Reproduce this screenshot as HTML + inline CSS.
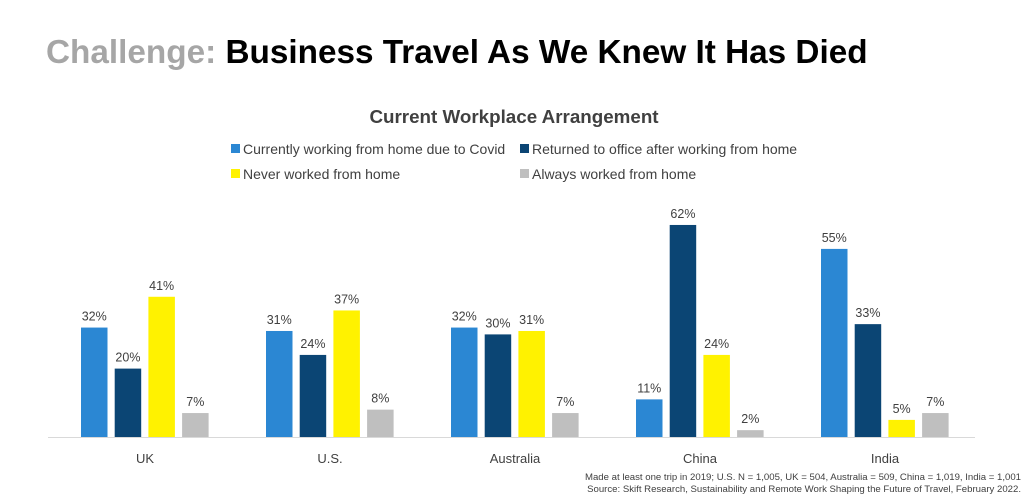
<!DOCTYPE html>
<html><head><meta charset="utf-8"><style>
html,body{margin:0;padding:0;background:#fff;}
svg{display:block;font-family:"Liberation Sans",sans-serif;}
</style></head><body>
<svg width="1028" height="495" viewBox="0 0 1028 495" xmlns="http://www.w3.org/2000/svg">
<text x="46" y="63" font-size="33.3" font-weight="bold" fill="#A6A6A6">Challenge: <tspan fill="#000">Business Travel As We Knew It Has Died</tspan></text>
<text x="514" y="123" font-size="18.8" font-weight="bold" fill="#404040" text-anchor="middle">Current Workplace Arrangement</text>
<g font-size="14" fill="#404040">
<rect x="231" y="144" width="9" height="9" fill="#2B87D3"/><text x="243" y="154">Currently working from home due to Covid</text>
<rect x="520" y="144" width="9" height="9" fill="#0B4574"/><text x="532" y="154">Returned to office after working from home</text>
<rect x="231" y="169" width="9" height="9" fill="#FFF200"/><text x="243" y="179">Never worked from home</text>
<rect x="520" y="169" width="9" height="9" fill="#BFBFBF"/><text x="532" y="179">Always worked from home</text>
</g>
<line x1="48" y1="437.5" x2="975" y2="437.5" stroke="#D9D9D9" stroke-width="1"/>
<g id="bars" font-size="12.5" fill="#404040" text-anchor="middle"></g>
<g font-size="13" fill="#404040" text-anchor="middle">
<text x="145" y="463">UK</text><text x="330" y="463">U.S.</text><text x="515" y="463">Australia</text><text x="700" y="463">China</text><text x="885" y="463">India</text>
</g>
<g font-size="9.6" fill="#404040" text-anchor="end">
<text x="1021" y="480">Made at least one trip in 2019; U.S. N = 1,005, UK = 504, Australia = 509, China = 1,019, India = 1,001</text>
<text x="1021" y="492">Source: Skift Research, Sustainability and Remote Work Shaping the Future of Travel, February 2022.</text>
</g>
</svg>
<script>
var d=[[32,20,41,7],[31,24,37,8],[32,30,31,7],[11,62,24,2],[55,33,5,7]];
var c=["#2B87D3","#0B4574","#FFF200","#BFBFBF"];
var g=document.getElementById("bars"),s="";
for(var i=0;i<5;i++)for(var j=0;j<4;j++){
var x=81+i*185+j*33.7,h=d[i][j]*3.42,y=437-h;
s+='<rect x="'+x+'" y="'+y+'" width="26.5" height="'+h+'" fill="'+c[j]+'"/>';
s+='<text x="'+(x+13.25)+'" y="'+(y-7)+'">'+d[i][j]+'%</text>';}
g.innerHTML=s;
</script>
</body></html>
